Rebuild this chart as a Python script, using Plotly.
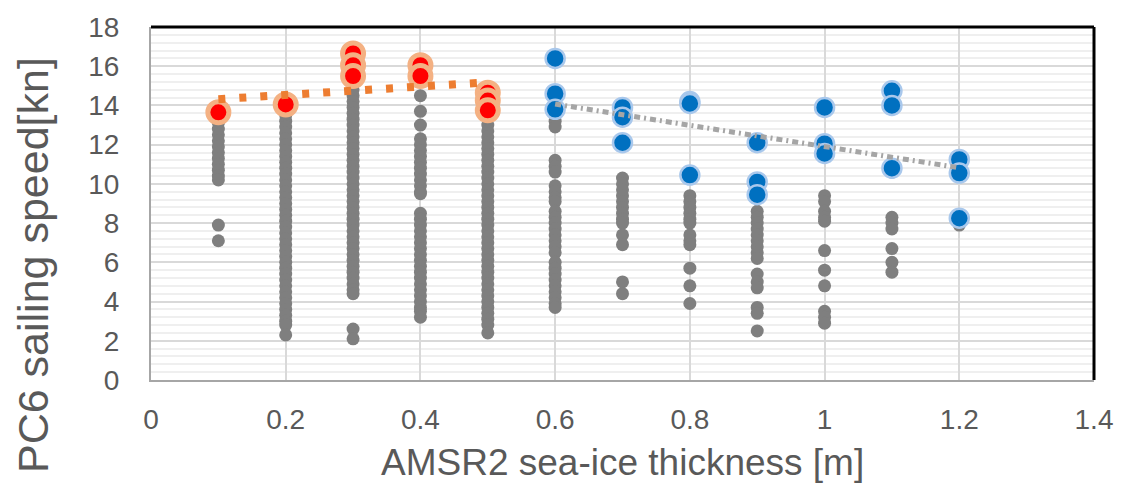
import plotly.graph_objects as go

# ---------------- data ----------------
thickness = [0.1, 0.2, 0.3, 0.4, 0.5, 0.6, 0.7, 0.8, 0.9, 1.0, 1.1, 1.2]

gray_speeds = {
    0.1: [13.4, 13.1, 12.8, 12.5, 12.2, 11.9, 11.6, 11.3, 11.0, 10.7, 10.4, 10.2, 7.9, 7.1],
    0.2: [13.8, 13.5, 13.2, 12.9, 12.6, 12.3, 12.0, 11.7, 11.4, 11.1, 10.8, 10.5, 10.2, 9.9,
          9.6, 9.3, 9.0, 8.7, 8.4, 8.1, 7.8, 7.5, 7.2, 6.9, 6.6, 6.3, 6.0, 5.7, 5.4, 5.1,
          4.8, 4.5, 4.2, 3.9, 3.6, 3.3, 3.0, 2.8, 2.3],
    0.3: [14.8, 14.5, 14.2, 13.9, 13.6, 13.3, 13.0, 12.7, 12.4, 12.1, 11.8, 11.5, 11.2,
          10.9, 10.6, 10.3, 10.0, 9.7, 9.4, 9.1, 8.8, 8.5, 8.2, 7.9, 7.6, 7.3, 7.0, 6.7,
          6.4, 6.1, 5.8, 5.5, 5.2, 4.9, 4.6, 4.4, 2.6, 2.1],
    0.4: [14.5, 13.7, 13.0, 12.3, 12.0, 11.7, 11.4, 11.1, 10.8, 10.5, 10.2, 9.9, 9.6, 9.5,
          8.5, 8.2, 7.9, 7.6, 7.3, 7.0, 6.7, 6.4, 6.1, 5.8, 5.5, 5.2, 4.9, 4.6, 4.3, 4.0,
          3.7, 3.5, 3.2],
    0.5: [13.0, 12.7, 12.4, 12.1, 11.8, 11.5, 11.2, 10.9, 10.6, 10.3, 10.0, 9.7, 9.4, 9.1,
          8.8, 8.5, 8.2, 7.9, 7.6, 7.3, 7.0, 6.7, 6.4, 6.1, 5.8, 5.5, 5.2, 4.9, 4.6, 4.3,
          4.0, 3.7, 3.4, 3.1, 2.8, 2.4],
    0.6: [13.2, 12.9, 11.2, 10.9, 10.6, 9.9, 9.6, 9.3, 9.1, 8.6, 8.3, 8.0, 7.7, 7.4, 7.1,
          6.8, 6.5, 6.0, 5.7, 5.4, 5.1, 4.8, 4.5, 4.2, 3.9, 3.7],
    0.7: [10.3, 10.0, 9.7, 9.4, 9.1, 8.8, 8.5, 8.2, 8.0, 7.4, 6.9, 5.0, 4.4],
    0.8: [9.4, 9.1, 8.8, 8.5, 8.2, 8.0, 7.4, 7.1, 6.9, 5.7, 4.8, 3.9],
    0.9: [8.6, 8.3, 8.0, 7.7, 7.4, 7.1, 6.8, 6.5, 6.2, 5.4, 5.0, 4.7, 3.7, 3.4, 2.5],
    1.0: [9.4, 9.1, 8.6, 8.3, 8.1, 6.6, 5.6, 4.8, 3.5, 3.2, 2.9],
    1.1: [10.6, 8.3, 8.0, 7.7, 6.7, 6.0, 5.5],
    1.2: [10.5, 8.0, 7.9],
}

red_x = [0.1, 0.2, 0.3, 0.3, 0.3, 0.4, 0.4, 0.5, 0.5, 0.5]
red_y = [13.65, 14.05, 16.65, 16.05, 15.5, 16.05, 15.5, 14.65, 14.25, 13.75]

blue_x = [0.6, 0.6, 0.6, 0.7, 0.7, 0.7, 0.8, 0.8, 0.8, 0.9, 0.9, 0.9,
          1.0, 1.0, 1.0, 1.1, 1.1, 1.1, 1.2, 1.2, 1.2]
blue_y = [16.4, 14.6, 13.8, 13.9, 13.4, 12.1, 14.2, 14.1, 10.45, 12.1, 10.1, 9.45,
          13.9, 12.05, 11.55, 14.75, 14.0, 10.8, 11.25, 10.55, 8.25]

trend_thin_x = [0.1, 0.5]
trend_thin_y = [14.32, 15.18]
trend_thick_x = [0.6, 1.2]
trend_thick_y = [14.07, 10.82]

x_ticks = [0, 0.2, 0.4, 0.6, 0.8, 1.0, 1.2, 1.4]
x_tick_labels = ["0", "0.2", "0.4", "0.6", "0.8", "1", "1.2", "1.4"]
y_ticks = [0, 2, 4, 6, 8, 10, 12, 14, 16, 18]
y_tick_labels = ["0", "2", "4", "6", "8", "10", "12", "14", "16", "18"]

x_title = "AMSR2 sea-ice thickness [m]"
y_title = "PC6 sailing speed[kn]"

# ---------------- figure ----------------
gx, gy = [], []
for t in thickness:
    for v in gray_speeds[t]:
        gx.append(t)
        gy.append(v)

fig = go.Figure()
fig.add_trace(go.Scatter(x=gx, y=gy, mode="markers",
                         marker=dict(color="#7f7f7f", size=13, line=dict(width=0)),
                         hoverinfo="x+y", showlegend=False))
fig.add_trace(go.Scatter(x=red_x, y=red_y, mode="markers",
                         marker=dict(color="#ff0000", size=21,
                                     line=dict(color="#f4b183", width=5)),
                         showlegend=False))
fig.add_trace(go.Scatter(x=blue_x, y=blue_y, mode="markers",
                         marker=dict(color="#0070c0", size=19,
                                     line=dict(color="#a9c8ec", width=2.5)),
                         showlegend=False))
fig.add_trace(go.Scatter(x=trend_thin_x, y=trend_thin_y, mode="lines",
                         line=dict(color="#ed7d31", width=8, dash="7px,14px"),
                         showlegend=False))
fig.add_trace(go.Scatter(x=trend_thick_x, y=trend_thick_y, mode="lines",
                         line=dict(color="#a5a5a5", width=5, dash="6px,4px,2px,4px"),
                         showlegend=False))

FONT = "Liberation Sans, Arial, sans-serif"
TXT = "#595959"

# the page body has an 8px default margin: compensate in figure size/margins
fig.update_layout(
    width=1114, height=475,
    margin=dict(l=143, r=28, t=19, b=103, autoexpand=False),
    paper_bgcolor="white", plot_bgcolor="white",
    font=dict(family=FONT, color=TXT),
    showlegend=False,
    xaxis=dict(range=[0, 1.4], tickmode="array", tickvals=x_ticks, ticktext=x_tick_labels,
               showgrid=True, gridcolor="#d9d9d9", gridwidth=2, automargin=False,
               zeroline=False, showline=True, linecolor="#a6a6a6", linewidth=2,
               ticks="", tickfont=dict(size=28, color=TXT, family=FONT),
               ticklabelstandoff=13),
    yaxis=dict(range=[0, 18], tickmode="array", tickvals=y_ticks, ticktext=y_tick_labels,
               showgrid=True, gridcolor="#d9d9d9", gridwidth=2, automargin=False,
               minor=dict(dtick=0.4, showgrid=True, gridcolor="#efefef", gridwidth=2),
               zeroline=False, showline=True, linecolor="#a6a6a6", linewidth=2,
               ticks="", tickfont=dict(size=28, color=TXT, family=FONT),
               ticklabelstandoff=24),
    shapes=[
        dict(type="line", xref="paper", yref="paper", x0=0, x1=1, y0=1, y1=1,
             line=dict(color="black", width=3)),
        dict(type="line", xref="paper", yref="paper", x0=1, x1=1, y0=0, y1=1,
             line=dict(color="black", width=3)),
    ],
    annotations=[
        dict(text=x_title, xref="paper", yref="paper", x=0.5, y=-0.2323,
             xanchor="center", yanchor="middle", showarrow=False,
             font=dict(size=37, color=TXT, family=FONT)),
        dict(text=y_title, xref="paper", yref="paper", x=-0.1251, y=0.3258,
             xanchor="center", yanchor="middle", showarrow=False, textangle=-90,
             font=dict(size=43, color=TXT, family=FONT)),
    ],
)

fig.write_html("out.html")
